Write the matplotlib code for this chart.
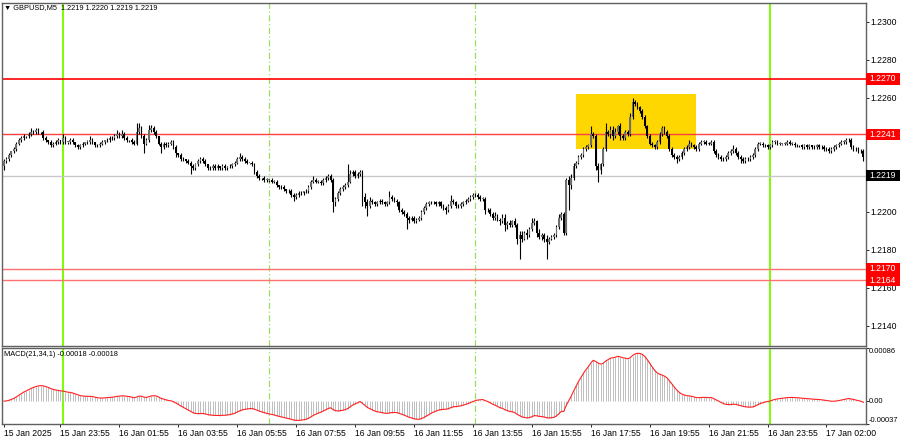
import numpy as np
import matplotlib
matplotlib.use("Agg")
import matplotlib.pyplot as plt
import matplotlib.transforms as mtransforms
from matplotlib import font_manager
from matplotlib.patches import Rectangle

# GBPUSD M5, closes in pips above 1.2200 (one value per bar)
base = 1.2200
open_first = 24
close_pips = [
    27, 28, 30, 32, 33, 36, 38, 39, 40, 40, 41, 42, 42, 43, 42, 42, 39, 38, 37, 35, 36, 37, 38, 37,
    39, 37, 37, 38, 37, 35, 34, 35, 36, 37, 37, 38, 37, 35, 35, 36, 37, 38, 38, 39, 39, 40, 41, 40,
    41, 39, 38, 38, 37, 36, 42, 44, 40, 36, 38, 43, 44, 42, 40, 36, 34, 36, 35, 36, 37, 34, 31, 30,
    28, 28, 27, 26, 24, 23, 25, 27, 28, 27, 25, 23, 23, 24, 23, 24, 23, 24, 23, 24, 24, 25, 26, 28,
    29, 28, 27, 26, 26, 25, 21, 19, 18, 18, 17, 17, 17, 16, 16, 14, 13, 13, 12, 11, 11, 9, 8, 9,
    10, 10, 11, 11, 13, 16, 17, 16, 16, 15, 17, 18, 19, 17, 5, 7, 10, 12, 13, 14, 16, 20, 21, 19,
    20, 21, 8, 5, 3, 6, 5, 4, 5, 6, 5, 4, 5, 8, 7, 6, 5, 1, 0, -1, -3, -4, -3, -5,
    -4, -3, 0, 2, 4, 5, 5, 5, 4, 5, 3, 2, 1, 3, 6, 5, 3, 3, 4, 5, 6, 7, 8, 9,
    9, 8, 7, 7, 1, 1, -1, -3, -2, -4, -5, -3, -7, -6, -7, -5, -7, -14, -12, -14, -11, -12, -9, -6,
    -5, -11, -13, -12, -14, -16, -14, -13, -12, -8, -3, -1, -11, 17, 14, 18, 24, 26, 29, 30, 33, 34, 35, 41,
    40, 24, 22, 25, 33, 42, 41, 43, 40, 42, 45, 40, 39, 42, 41, 50, 58, 57, 55, 53, 50, 45, 40, 36,
    35, 34, 37, 41, 44, 42, 40, 33, 30, 29, 28, 29, 31, 33, 34, 36, 35, 34, 33, 36, 37, 37, 36, 36,
    37, 32, 30, 29, 28, 28, 29, 31, 32, 33, 31, 29, 28, 27, 28, 28, 29, 30, 33, 36, 36, 35, 35, 34,
    35, 37, 37, 36, 36, 36, 36, 37, 36, 36, 35, 35, 35, 34, 35, 34, 35, 34, 34, 35, 34, 34, 33, 33,
    32, 33, 34, 35, 36, 37, 37, 38, 38, 34, 33, 33, 32, 32, 29,
]
# wick sizes in pips above / below the body
up_wick = [
    1, 1, 1, 0, 1, 1, 1, 1, 1, 0, 1, 2, 1, 1, 1, 0, 1, 1, 0, 1, 1, 1, 1, 0,
    2, 1, 0, 1, 1, 0, 1, 1, 1, 0, 1, 2, 1, 0, 1, 1, 1, 0, 1, 1, 1, 1, 2, 1,
    2, 1, 1, 0, 1, 1, 5, 3, 1, 1, 1, 3, 2, 1, 1, 0, 1, 1, 1, 1, 1, 1, 1, 0,
    1, 1, 0, 1, 1, 1, 1, 1, 1, 1, 1, 0, 1, 1, 1, 1, 0, 1, 1, 0, 1, 1, 1, 1,
    2, 1, 1, 1, 0, 1, 1, 1, 1, 0, 1, 1, 0, 1, 1, 1, 0, 1, 1, 0, 1, 1, 1, 1,
    1, 1, 0, 1, 1, 1, 2, 1, 1, 1, 1, 1, 1, 1, 1, 1, 1, 1, 1, 1, 9, 2, 1, 1,
    1, 1, 1, 2, 2, 2, 1, 1, 1, 1, 1, 1, 1, 3, 1, 1, 1, 1, 1, 1, 1, 1, 1, 1,
    1, 1, 1, 1, 1, 1, 1, 1, 1, 1, 1, 1, 1, 1, 3, 1, 1, 1, 1, 1, 1, 1, 1, 1,
    1, 1, 1, 1, 1, 1, 1, 1, 2, 1, 1, 2, 2, 1, 2, 1, 2, 1, 2, 2, 1, 2, 1, 3,
    2, 1, 2, 1, 1, 2, 1, 1, 1, 1, 2, 1, 1, 1, 2, 2, 2, 1, 1, 1, 1, 1, 1, 4,
    1, 1, 2, 1, 1, 5, 1, 2, 2, 2, 1, 2, 1, 1, 1, 2, 2, 1, 1, 1, 1, 1, 1, 1,
    1, 1, 1, 1, 1, 1, 1, 1, 1, 1, 1, 1, 1, 1, 1, 2, 1, 1, 1, 1, 1, 1, 1, 1,
    1, 1, 1, 1, 1, 1, 1, 1, 1, 2, 1, 1, 1, 1, 1, 1, 1, 1, 1, 1, 1, 1, 1, 1,
    1, 1, 1, 1, 1, 0, 1, 1, 1, 1, 1, 1, 0, 1, 1, 1, 1, 0, 1, 1, 1, 1, 1, 1,
    1, 1, 1, 1, 1, 1, 1, 1, 1, 1, 1, 1, 1, 1, 1,
]
down_wick = [
    2, 1, 1, 1, 1, 1, 1, 1, 1, 1, 1, 1, 1, 1, 1, 1, 1, 1, 1, 1, 1, 1, 1, 1,
    1, 1, 1, 1, 1, 1, 1, 1, 1, 1, 1, 1, 1, 1, 1, 1, 1, 1, 1, 1, 1, 1, 1, 1,
    1, 1, 1, 1, 1, 1, 1, 1, 1, 5, 1, 1, 1, 1, 1, 1, 3, 1, 1, 1, 1, 1, 2, 1,
    1, 1, 1, 1, 4, 1, 1, 1, 1, 1, 1, 1, 1, 1, 1, 1, 1, 1, 1, 1, 1, 1, 1, 1,
    1, 1, 1, 1, 1, 1, 1, 1, 1, 1, 1, 1, 1, 1, 1, 1, 1, 1, 1, 1, 1, 1, 2, 1,
    1, 1, 1, 1, 1, 1, 1, 1, 1, 1, 1, 1, 1, 1, 5, 2, 1, 1, 1, 1, 1, 1, 1, 1,
    1, 1, 5, 3, 5, 1, 1, 1, 1, 1, 1, 1, 1, 1, 1, 1, 2, 1, 1, 1, 6, 2, 1, 1,
    1, 1, 1, 1, 1, 1, 1, 1, 1, 1, 1, 1, 2, 1, 1, 1, 1, 1, 1, 1, 1, 1, 1, 1,
    1, 1, 1, 1, 2, 1, 1, 1, 1, 1, 2, 1, 3, 2, 1, 1, 1, 3, 11, 2, 1, 2, 1, 1,
    1, 2, 1, 2, 2, 9, 1, 1, 1, 1, 1, 1, 1, 1, 13, 2, 1, 1, 1, 1, 1, 1, 1, 1,
    1, 2, 6, 2, 1, 1, 1, 2, 2, 1, 1, 2, 1, 1, 1, 1, 1, 1, 1, 1, 1, 1, 1, 1,
    1, 1, 1, 1, 1, 1, 1, 1, 1, 1, 2, 1, 1, 1, 1, 1, 1, 1, 1, 1, 1, 1, 1, 1,
    1, 1, 1, 1, 1, 1, 1, 1, 1, 1, 1, 1, 2, 1, 1, 1, 1, 1, 1, 1, 1, 1, 1, 1,
    1, 1, 1, 1, 1, 1, 1, 1, 1, 1, 1, 1, 1, 1, 1, 1, 1, 1, 1, 1, 1, 1, 1, 1,
    1, 1, 1, 1, 1, 1, 1, 1, 1, 1, 1, 1, 1, 1, 2,
]

time_idx = [0, 23, 47, 71, 95, 119, 143, 167, 191, 215, 239, 263, 287, 311, 335]
time_labels = ["15 Jan 2025", "15 Jan 23:55", "16 Jan 01:55", "16 Jan 03:55", "16 Jan 05:55",
               "16 Jan 07:55", "16 Jan 09:55", "16 Jan 11:55", "16 Jan 13:55", "16 Jan 15:55",
               "16 Jan 17:55", "16 Jan 19:55", "16 Jan 21:55", "16 Jan 23:55", "17 Jan 02:00"]
day_lines = [24, 312]
session_lines = [108, 192]
red_levels = [1.2270, 1.2241, 1.2170, 1.2164]
bid_price = 1.2219
zone_bars = (233, 282)
zone_prices = (1.22332, 1.22621)
# 1.2240 and 1.2220 sit under the level boxes, so they are not shown
price_ticks = [1.2140, 1.2160, 1.2180, 1.2200, 1.2260, 1.2280, 1.2300]
macd_top, macd_bot = 0.00086, -0.00037

# fonts
names = {f.name for f in font_manager.fontManager.ttflist}
narrow = 'Liberation Sans Narrow' in names
FONT = 'Liberation Sans Narrow' if narrow else 'Liberation Sans'
FS_HDR = 6.3 if narrow else 5.3
FS = FS_HDR * 1.18
plt.rcParams['font.family'] = [FONT, 'DejaVu Sans']

c = base + np.array(close_pips) / 10000.0
o = np.concatenate([[base + open_first / 10000.0], c[:-1]])
hi = np.maximum(o, c) + np.array(up_wick) / 10000.0
lo = np.minimum(o, c) - np.array(down_wick) / 10000.0
n = len(c)
x = np.arange(n)

# MACD(21,34,1)
def ema(v, span):
    a = 2.0 / (span + 1)
    out = np.empty_like(v)
    out[0] = v[0]
    for k in range(1, len(v)):
        out[k] = a * v[k] + (1 - a) * out[k - 1]
    return out

macd = ema(c, 21) - ema(c, 34)

fig = plt.figure(figsize=(9, 4.41), dpi=100)
ax = fig.add_axes([2 / 900, 95 / 441, 864 / 900, 343 / 441])
ax2 = fig.add_axes([2 / 900, 17 / 441, 864 / 900, 76 / 441])

xmin, xmax = -0.81, 351.1
ymin, ymax = 1.212947, 1.2310
ax.set_xlim(xmin, xmax)
ax.set_ylim(ymin, ymax)
ax2.set_xlim(xmin, xmax)
ax2.set_ylim(macd_bot, macd_top)

# zone + lines
ax.add_patch(Rectangle((zone_bars[0], zone_prices[0]), zone_bars[1] - zone_bars[0],
                       zone_prices[1] - zone_prices[0], facecolor='#FFD700', edgecolor='none', zorder=0.5))
for a in (ax, ax2):
    for d in day_lines:
        a.axvline(d, color='#7CFC00', lw=1.4, zorder=0.8)
    for s in session_lines:
        a.axvline(s, color='#99e060', lw=0.9, ls=(0, (5, 2, 1, 2)), zorder=0.8)

ax.axhline(bid_price, color='#c8c8c8', lw=1.0, zorder=0.9)
ax.axhline(red_levels[0], color='#ff0000', lw=1.2, zorder=1.5)
ax.axhline(red_levels[1], color='#ff4040', lw=1.0, zorder=1.5)
ax.axhline(red_levels[2], color='#ff7070', lw=1.0, zorder=1.5)
ax.axhline(red_levels[3], color='#ff7070', lw=1.0, zorder=1.5)

# candles
ax.vlines(x, lo, hi, color='black', lw=0.8, zorder=2)
bull = c >= o
body = np.maximum(np.abs(c - o), 0.000015)
bottom = np.minimum(o, c)
ax.bar(x[bull], body[bull], 0.7, bottom[bull], color='#6e6e6e', edgecolor='none', zorder=3)
ax.bar(x[~bull], body[~bull], 0.7, bottom[~bull], color='black', edgecolor='none', zorder=3)

# MACD panel
ax2.vlines(x, 0, macd, color='#bdbdbd', lw=0.7, zorder=1)
ax2.plot(x, macd, color='#ff2020', lw=0.8, zorder=2)

# axes styling
for a in (ax, ax2):
    for sp in a.spines.values():
        sp.set_color('#606060')
        sp.set_linewidth(1.0)
ax.set_xticks([])
ax.yaxis.tick_right()
ax.set_yticks(price_ticks)
ax.set_yticklabels([f"{p:.4f}" for p in price_ticks])
ax.tick_params(axis='y', length=2.2, width=0.6, pad=1, labelsize=FS, colors='black')

tr = mtransforms.blended_transform_factory(ax.transAxes, ax.transData)
lx = (869 - 2) / 864
box_h = 0.00058
for lvl in red_levels:
    ax.add_patch(Rectangle((1.0, lvl - box_h / 2), 0.04, box_h, transform=tr,
                           facecolor='#ff0000', edgecolor='none', clip_on=False, zorder=6))
    ax.text(lx, lvl, f"{lvl:.4f}", transform=tr, va='center', ha='left', color='white',
            fontsize=FS, zorder=7, clip_on=False)
ax.add_patch(Rectangle((1.0, bid_price - box_h / 2), 0.04, box_h, transform=tr,
                       facecolor='black', edgecolor='none', clip_on=False, zorder=6))
ax.text(lx, bid_price, f"{bid_price:.4f}", transform=tr, va='center', ha='left', color='white',
        fontsize=FS, zorder=7, clip_on=False)

ax2.set_xticks(time_idx)
ax2.set_xticklabels(time_labels, ha='left', fontsize=FS)
ax2.tick_params(axis='x', length=2.2, width=0.6, pad=1.5)
ax2.yaxis.tick_right()
ax2.set_yticks([macd_top, 0.0, macd_bot])
ax2.set_yticklabels([])
ax2.tick_params(axis='y', length=2.2, width=0.6)
tr2 = mtransforms.blended_transform_factory(ax2.transAxes, ax2.transData)
FS_M = FS_HDR * 1.02
ax2.text(lx, macd_top, "0.00086", transform=tr2, va='top', ha='left', fontsize=FS_M, clip_on=False)
ax2.text(lx, 0.0, "0.00", transform=tr2, va='center', ha='left', fontsize=FS_M, clip_on=False)
ax2.text(lx, macd_bot, "-0.00037", transform=tr2, va='bottom', ha='left', fontsize=FS_M,
         clip_on=False)

fig.text(4 / 900, 1 - 8 / 441, "\u25bc GBPUSD,M5  1.2219 1.2220 1.2219 1.2219", va='center',
         ha='left', fontsize=FS_HDR)
fig.text(4 / 900, 1 - 355 / 441, "MACD(21,34,1) -0.00018 -0.00018", va='center', ha='left',
         fontsize=FS_HDR)

fig.savefig("out.png", dpi=100)
